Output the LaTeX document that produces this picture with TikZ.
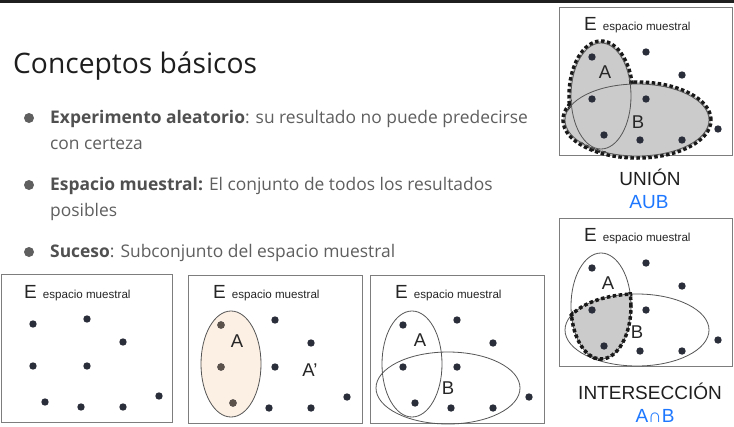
\documentclass[tikz,border=0pt]{standalone}
\usepackage{fontspec}
\setmainfont{Open Sans}
\newfontfamily\arial{Liberation Sans}
\usetikzlibrary{positioning}
\definecolor{textogris}{RGB}{95,95,95}
\definecolor{negrita}{RGB}{80,80,80}
\definecolor{titulo}{RGB}{30,30,30}
\definecolor{marco}{RGB}{125,125,125}
\definecolor{punto}{RGB}{42,45,58}
\definecolor{puntoA}{RGB}{92,82,76}
\definecolor{sombra}{RGB}{203,203,203}
\definecolor{durazno}{RGB}{252,239,227}
\definecolor{azul}{RGB}{30,120,255}
\definecolor{linea}{RGB}{85,85,85}

% los nueve resultados del espacio muestral
\newcommand{\puntos}{%
  \foreach \px/\py in {33/50, 87/45, 123/68, 33/92, 87/92, 45/128, 81/133, 123/133, 159/122}
    \fill[punto] (\px,\py) circle (3.7pt);}
\newcommand{\termino}[1]{\textcolor{negrita}{\bfseries #1}}

\begin{document}
\begin{tikzpicture}[x=1pt, y=-1pt,
  caja/.style={draw=marco, line width=0.9pt, fill=white},
  etiq/.style={inner sep=0pt, anchor=base west, font=\arial, text=black!85},
  letra/.style={inner sep=0pt, font=\arial\fontsize{18.5}{20}\selectfont, text=black!85},
  lin/.style={draw=linea, line width=0.8pt},
  punteado/.style={draw=black!90, line width=3.5pt, dash pattern=on 3.5pt off 2.5pt},
  texto/.style={inner sep=0pt, anchor=base west, text=textogris, font=\fontsize{17.4}{20}\selectfont},
  pie/.style={inner sep=0pt, font=\arial\fontsize{19}{21}\selectfont}
]
  \useasboundingbox (0,0) rectangle (734,426);
  \fill[white] (0,0) rectangle (734,426);
  \fill[black!88] (0,0) rectangle (734,2.5);

  % titulo y lista
  \node[inner sep=0pt, anchor=base west, text=titulo, font=\fontsize{28.2}{31}\selectfont] (titulo) at (13,73) {Conceptos básicos};
  \fill[textogris] (29,118) circle (5pt);
  \node[texto] (item1a) at (50,123) {\termino{Experimento aleatorio}: su resultado no puede predecirse};
  \node[texto] (item1b) at (50,149) {con certeza};
  \fill[textogris] (29,185) circle (5pt);
  \node[texto] (item2a) at (50,190) {\termino{Espacio muestral:} El conjunto de todos los resultados};
  \node[texto] (item2b) at (50,216) {posibles};
  \fill[textogris] (29,252) circle (5pt);
  \node[texto] (item3) at (50,257) {\termino{Suceso}: Subconjunto del espacio muestral};

  % espacio muestral
  \begin{scope}[shift={(0,274)}]
    \draw[caja] (1,0) rectangle (172,148);
    \node[etiq] (eE1) at (24,24) {{\fontsize{19}{20}\selectfont E}\hspace{6pt}{\fontsize{11.6}{13}\selectfont espacio muestral}};
    \puntos
  \end{scope}

  % suceso A y su complemento
  \begin{scope}[shift={(188,275)}]
    \draw[caja] (0,0) rectangle (174,148);
    \filldraw[fill=durazno, lin] (43,89) ellipse [x radius=30pt, y radius=53pt];
    \node[etiq] (eE2) at (25,23) {{\fontsize{19}{20}\selectfont E}\hspace{6pt}{\fontsize{11.6}{13}\selectfont espacio muestral}};
    \puntos
    \foreach \px/\py in {33/50, 33/92, 45/128}
      \fill[puntoA] (\px,\py) circle (3.7pt);
    \node[letra] (lA2) at (49,66) {A};
    \node[letra] (lAp) at (122,95) {A’};
  \end{scope}

  % sucesos A y B
  \begin{scope}[shift={(370,275)}]
    \draw[caja] (0,0) rectangle (174,148);
    \draw[lin] (42,89) ellipse [x radius=30pt, y radius=53pt];
    \draw[lin] (78,113) ellipse [x radius=72pt, y radius=36pt];
    \node[etiq] (eE3) at (25,23) {{\fontsize{19}{20}\selectfont E}\hspace{6pt}{\fontsize{11.6}{13}\selectfont espacio muestral}};
    \puntos
    \node[letra] (lA3) at (50,65) {A};
    \node[letra] (lB3) at (78,113) {B};
  \end{scope}

  % union
  \begin{scope}[shift={(559,7)}]
    \draw[caja] (0,0) rectangle (173,148);
    \fill[sombra] (42,89) ellipse [x radius=32pt, y radius=55pt];
    \fill[sombra] (78,113) ellipse [x radius=74pt, y radius=38pt];
    \draw[punteado] (42,89) ellipse [x radius=32pt, y radius=55pt];
    \draw[punteado] (78,113) ellipse [x radius=74pt, y radius=38pt];
    \fill[sombra] (42,89) ellipse [x radius=29pt, y radius=52pt];
    \fill[sombra] (78,113) ellipse [x radius=71pt, y radius=35pt];
    \draw[lin] (42,89) ellipse [x radius=30pt, y radius=53pt];
    \draw[lin] (78,113) ellipse [x radius=72pt, y radius=36pt];
    \node[etiq] (eU) at (25,23) {{\fontsize{19}{20}\selectfont E}\hspace{6pt}{\fontsize{11.6}{13}\selectfont espacio muestral}};
    \puntos
    \node[letra] (lAU) at (46,65) {A};
    \node[letra] (lBU) at (79,115) {B};
  \end{scope}
  \node[pie, anchor=base, text=black!88] (union) at (650,185) {UNIÓN};
  \node[pie, anchor=base, text=azul] (aub) at (649,208) {AUB};

  % interseccion
  \begin{scope}[shift={(559,218)}]
    \draw[caja] (0,0) rectangle (173,148);
    \begin{scope}
      \clip (42,88) ellipse [x radius=30pt, y radius=53pt];
      \fill[sombra] (78,112) ellipse [x radius=72pt, y radius=36pt];
    \end{scope}
    \draw[lin] (42,88) ellipse [x radius=30pt, y radius=53pt];
    \draw[lin] (78,112) ellipse [x radius=72pt, y radius=36pt];
    \begin{scope}
      \clip (78,112) ellipse [x radius=74pt, y radius=38pt];
      \draw[punteado] (42,88) ellipse [x radius=30pt, y radius=53pt];
    \end{scope}
    \begin{scope}
      \clip (42,88) ellipse [x radius=32pt, y radius=55pt];
      \draw[punteado] (78,112) ellipse [x radius=72pt, y radius=36pt];
    \end{scope}
    \node[etiq] (eI) at (25,23) {{\fontsize{19}{20}\selectfont E}\hspace{6pt}{\fontsize{11.6}{13}\selectfont espacio muestral}};
    \puntos
    \node[letra] (lAI) at (49,65) {A};
    \node[letra] (lBI) at (78,114) {B};
  \end{scope}
  \node[pie, anchor=base, text=black!88] (inter) at (650,399) {INTERSECCIÓN};
  \node[pie, anchor=base, text=azul] (anb) at (655,422) {A∩B};
\end{tikzpicture}
\end{document}
